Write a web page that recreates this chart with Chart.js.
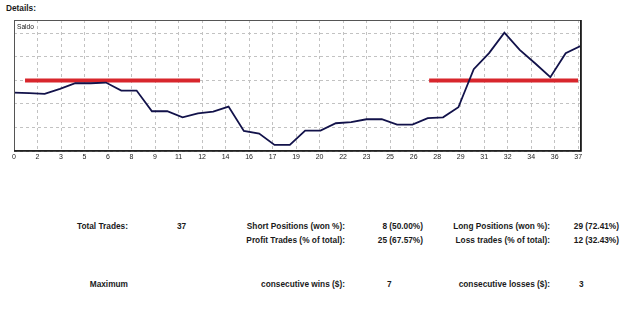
<!DOCTYPE html>
<html>
<head>
<meta charset="utf-8">
<script src="https://cdn.jsdelivr.net/npm/chart.js@4.4.1/dist/chart.umd.min.js"></script>
<style>
  html, body { margin: 0; padding: 0; background: #fff; }
  body { width: 625px; height: 327px; position: relative; overflow: hidden;
         font-family: "Liberation Sans", Arial, sans-serif; color: #1a1a1a; }
  .t { position: absolute; font-weight: bold; font-size: 8.3px; line-height: 10px; white-space: nowrap; }
  #wrap { position: absolute; left: 0; top: 0; width: 625px; height: 170px; }
  #saldo { position: absolute; left: 17px; top: 23px; font-size: 6.6px; line-height: 8px; color: #222; }
</style>
</head>
<body>
<div class="t" style="left:6px; top:3px;">Details:</div>

<div id="wrap"><canvas id="saldo-chart"></canvas></div>
<div id="saldo">Saldo</div>

<div class="t" style="right:497px; top:221px;">Total Trades:</div>
<div class="t" style="left:177px; top:221px;">37</div>
<div class="t" style="right:280px; top:221px;">Short Positions (won %):</div>
<div class="t" style="right:202px; top:221px;">8 (50.00%)</div>
<div class="t" style="right:75px; top:221px;">Long Positions (won %):</div>
<div class="t" style="right:6px; top:221px;">29 (72.41%)</div>

<div class="t" style="right:280px; top:235px;">Profit Trades (% of total):</div>
<div class="t" style="right:202px; top:235px;">25 (67.57%)</div>
<div class="t" style="right:75px; top:235px;">Loss trades (% of total):</div>
<div class="t" style="right:6px; top:235px;">12 (32.43%)</div>

<div class="t" style="right:497px; top:279px;">Maximum</div>
<div class="t" style="right:280px; top:279px;">consecutive wins ($):</div>
<div class="t" style="left:387px; top:279px;">7</div>
<div class="t" style="right:75px; top:279px;">consecutive losses ($):</div>
<div class="t" style="left:579px; top:279px;">3</div>

<script>
// balance curve, one value per closed trade (0..37)
const tradeNo = [0,1,2,3,4,5,6,7,8,9,10,11,12,13,14,15,16,17,18,19,20,21,22,23,24,25,26,27,28,29,30,31,32,33,34,35,36,37];
const saldo = [2.48,2.46,2.43,2.64,2.88,2.88,2.91,2.57,2.57,1.69,1.69,1.43,1.60,1.67,1.89,0.85,0.74,0.26,0.26,0.87,
               0.87,1.18,1.23,1.35,1.35,1.12,1.12,1.40,1.43,1.86,3.48,4.16,5.03,4.30,3.73,3.14,4.16,4.47];

// x axis labels as printed under the chart
const tickLabels = ['0','2','3','5','6','8','9','11','12','14','16','17','19','20','22','23','25','26','28','29','31','32','34','36','37'];

// the two red marker lines (trade from, trade to, level)
const markLeft = [[0.72, 3.0], [12.14, 3.0]];
const markRight = [[27.09, 3.0], [36.81, 3.0]];

const tickStep = 1.534;

const framePlugin = {
  id: 'frame',
  afterDraw(chart) {
    const a = chart.chartArea;
    const c = chart.ctx;
    c.save();
    c.strokeStyle = '#555';
    c.lineWidth = 1;
    c.strokeRect(a.left + 0.5, a.top + 0.5, a.right - a.left - 1, a.bottom - a.top - 1);
    c.strokeStyle = '#111';
    c.lineWidth = 1.6;
    c.beginPath();
    c.moveTo(a.left, a.bottom);
    c.lineTo(a.right, a.bottom);
    c.lineTo(a.right, a.top);
    c.stroke();
    c.restore();
  }
};

new Chart(document.getElementById('saldo-chart'), {
  type: 'line',
  data: {
    datasets: [
      {
        label: 'Saldo',
        data: saldo.map((v, i) => ({ x: tradeNo[i], y: v })),
        borderColor: '#12124a',
        borderWidth: 1.8,
        pointRadius: 0,
        tension: 0
      },
      {
        label: 'mark1',
        data: markLeft.map(p => ({ x: p[0], y: p[1] })),
        borderColor: '#d8262c',
        borderWidth: 4,
        pointRadius: 0,
        borderCapStyle: 'butt'
      },
      {
        label: 'mark2',
        data: markRight.map(p => ({ x: p[0], y: p[1] })),
        borderColor: '#d8262c',
        borderWidth: 4,
        pointRadius: 0,
        borderCapStyle: 'butt'
      }
    ]
  },
  options: {
    responsive: true,
    maintainAspectRatio: false,
    animation: false,
    layout: { padding: { left: 14, right: 44, top: 20, bottom: 0 } },
    plugins: { legend: false, tooltip: { enabled: false } },
    scales: {
      x: {
        type: 'linear',
        min: 0,
        max: 37,
        afterBuildTicks: (axis) => {
          axis.ticks = tickLabels.map((_, i) => ({ value: i * tickStep }));
        },
        afterFit: (axis) => { axis.height = 19; },
        ticks: {
          autoSkip: false,
          maxRotation: 0,
          padding: 2,
          color: '#222',
          font: { family: 'Liberation Sans', size: 7 },
          callback: (val, idx) => tickLabels[idx]
        },
        grid: { color: '#c2c2c2', drawTicks: false },
        border: { display: false, dash: [3, 3] }
      },
      y: {
        min: 0,
        max: 5.57,
        ticks: { display: false, stepSize: 1 },
        afterFit: (axis) => { axis.width = 0; },
        grid: { color: '#c2c2c2', drawTicks: false },
        border: { display: false, dash: [3, 3] }
      }
    }
  },
  plugins: [framePlugin]
});
</script>
</body>
</html>
